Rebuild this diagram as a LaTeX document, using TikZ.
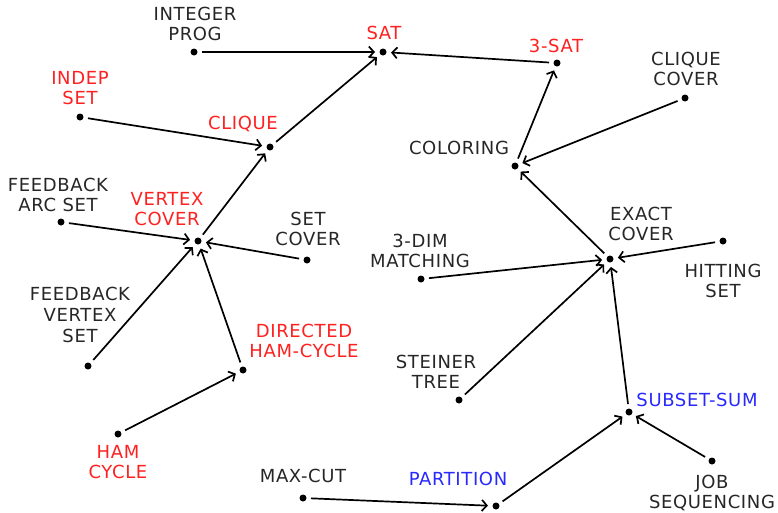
\documentclass[tikz,border=0pt]{standalone}
\usepackage{fontspec}
\setmainfont{DejaVu Sans}[LetterSpace=3.5]
\usetikzlibrary{arrows.meta}
\definecolor{txt}{HTML}{262626}
\definecolor{rd}{HTML}{FF2020}
\definecolor{bl}{HTML}{2828FF}
\tikzset{
  pt/.style={circle,fill=black,inner sep=0pt,minimum size=7pt,outer sep=4.5pt},
  lbl/.style={align=center,inner sep=0pt,text=txt,font=\fontsize{18}{20.6}\selectfont},
  rlbl/.style={lbl,text=rd},
  blbl/.style={lbl,text=bl},
  red/.style={line width=1.7pt,-{Straight Barb[length=5pt,width=11pt,line width=1.7pt]}},
}
\begin{document}
\begin{tikzpicture}[x=1pt,y=-1pt]
\useasboundingbox (0,0) rectangle (778,512);
% points
\node[pt] (sat) at (383,52) {};
\node[pt] (ip) at (194,52) {};
\node[pt] (tsat) at (557,63) {};
\node[pt] (cc) at (685,98) {};
\node[pt] (col) at (515,166) {};
\node[pt] (ec) at (610,259) {};
\node[pt] (hs) at (723,241) {};
\node[pt] (tdm) at (421,279) {};
\node[pt] (st) at (459,400) {};
\node[pt] (ss) at (629,412) {};
\node[pt] (js) at (712,461) {};
\node[pt] (part) at (496,506) {};
\node[pt] (mc) at (303,498) {};
\node[pt] (ham) at (118,434) {};
\node[pt] (dham) at (243,370) {};
\node[pt] (fvs) at (88,366) {};
\node[pt] (vc) at (198,241) {};
\node[pt] (setc) at (307,260) {};
\node[pt] (fas) at (61,222) {};
\node[pt] (is) at (80,117) {};
\node[pt] (cl) at (270,147) {};
% labels
\node[rlbl] (l-sat) at (384,33) {SAT};
\node[lbl] (l-ip) at (195,24) {INTEGER\\PROG};
\node[rlbl] (l-tsat) at (556,46) {3-SAT};
\node[lbl] (l-cc) at (686,69) {CLIQUE\\COVER};
\node[lbl] (l-col) at (459,148) {COLORING};
\node[lbl] (l-ec) at (641,224) {EXACT\\COVER};
\node[lbl] (l-hs) at (723,281) {HITTING\\SET};
\node[lbl] (l-tdm) at (420,251) {3-DIM\\MATCHING};
\node[lbl] (l-st) at (436,372) {STEINER\\TREE};
\node[blbl] (l-ss) at (697,400) {SUBSET-SUM};
\node[lbl] (l-js) at (712,493) {JOB\\SEQUENCING};
\node[blbl] (l-part) at (458,479) {PARTITION};
\node[lbl] (l-mc) at (303,476) {MAX-CUT};
\node[rlbl] (l-ham) at (118,462) {HAM\\CYCLE};
\node[rlbl] (l-dham) at (304,341) {DIRECTED\\HAM-CYCLE};
\node[lbl] (l-fvs) at (80,315) {FEEDBACK\\VERTEX\\SET};
\node[rlbl] (l-vc) at (167,209) {VERTEX\\COVER};
\node[lbl] (l-setc) at (308,229) {SET\\COVER};
\node[lbl] (l-fas) at (58,195) {FEEDBACK\\ARC SET};
\node[rlbl] (l-is) at (80,88) {INDEP\\SET};
\node[rlbl] (l-cl) at (243,124) {CLIQUE};
% reductions
\draw[red] (ip) -- (sat);
\draw[red] (tsat) -- (sat);
\draw[red] (cl) -- (sat);
\draw[red] (is) -- (cl);
\draw[red] (vc) -- (cl);
\draw[red] (fas) -- (vc);
\draw[red] (setc) -- (vc);
\draw[red] (fvs) -- (vc);
\draw[red] (dham) -- (vc);
\draw[red] (ham) -- (dham);
\draw[red] (col) -- (tsat);
\draw[red] (cc) -- (col);
\draw[red] (ec) -- (col);
\draw[red] (hs) -- (ec);
\draw[red] (tdm) -- (ec);
\draw[red] (st) -- (ec);
\draw[red] (ss) -- (ec);
\draw[red] (part) -- (ss);
\draw[red] (js) -- (ss);
\draw[red] (mc) -- (part);
\end{tikzpicture}
\end{document}
